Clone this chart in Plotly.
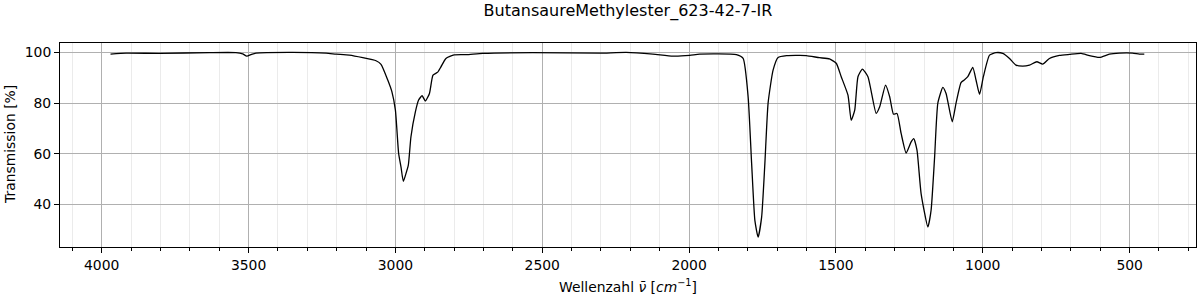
import plotly.graph_objects as go

title_text = "ButansaureMethylester_623-42-7-IR"
x_label = "Wellenzahl <i>ν̄</i> [<i>cm</i><sup>−1</sup>]"
y_label = "Transmission [%]"

wavenumber = [
    3970, 3917, 3804, 3633, 3543, 3520, 3506, 3490, 3475, 3350, 3236, 3202, 3157,
    3111, 3066, 3049, 3026, 3012, 3000, 2989, 2981, 2973, 2964, 2956, 2947, 2932,
    2921, 2909, 2898, 2884, 2872, 2856, 2845, 2828, 2800, 2759, 2702, 2532, 2305,
    2214, 2123, 2055, 1998, 1964, 1839, 1816, 1799, 1787, 1776, 1765, 1753, 1742,
    1731, 1714, 1697, 1668, 1623, 1601, 1556, 1522, 1499, 1482, 1459, 1448, 1436,
    1425, 1410, 1391, 1363, 1351, 1331, 1317, 1304, 1292, 1278, 1261, 1244, 1235,
    1224, 1210, 1187, 1176, 1164, 1153, 1136, 1125, 1104, 1091, 1074, 1063, 1051,
    1034, 1023, 1011, 998, 977, 955, 932, 909, 887, 864, 841, 816, 796, 773, 739,
    705, 665, 637, 603, 569, 535, 490, 467, 450,
]
transmission = [
    99.3, 99.7, 99.6, 99.9, 99.9, 99.4, 98.5, 99.2, 99.7, 100.0, 99.7, 99.3, 98.9,
    97.9, 96.7, 95.3, 89.1, 84.5, 77.2, 60.1, 54.8, 49.1, 52.2, 55.5, 66.7, 76.5,
    81.2, 82.9, 80.8, 83.8, 91.0, 92.2, 94.3, 97.6, 99.0, 99.1, 99.6, 99.9, 99.7,
    100.0, 99.3, 98.5, 98.8, 99.3, 99.1, 97.6, 82.5, 56.1, 33.7, 27.1, 35.0, 56.1,
    80.0, 93.0, 98.0, 98.7, 98.8, 98.7, 97.9, 97.4, 95.7, 90.4, 83.1, 73.2, 77.2,
    90.4, 93.4, 90.4, 75.9, 78.5, 87.1, 82.5, 75.6, 75.9, 68.0, 60.3, 64.7, 66.0,
    61.4, 44.3, 31.1, 37.7, 58.7, 80.0, 86.2, 83.8, 72.6, 80.0, 88.1, 89.1, 90.4,
    94.1, 89.1, 83.4, 90.4, 98.9, 99.9, 99.6, 97.6, 95.0, 94.6, 95.0, 96.3, 95.4,
    97.6, 98.8, 99.2, 99.6, 98.7, 98.0, 99.3, 99.7, 99.7, 99.3, 99.3,
]

x_ticks = [4000, 3500, 3000, 2500, 2000, 1500, 1000, 500]
y_ticks = [40, 60, 80, 100]

font = "DejaVu Sans"

fig = go.Figure()
fig.add_trace(go.Scatter(
    x=wavenumber, y=transmission, mode="lines",
    line=dict(color="black", width=1.3, shape="spline", smoothing=0.5),
    showlegend=False, hoverinfo="skip",
))

fig.update_layout(
    width=1200, height=300,
    margin=dict(l=60, r=4, t=43, b=53),
    paper_bgcolor="white", plot_bgcolor="white",
    font=dict(family=font, size=13.9, color="black"),
    title=dict(text=title_text, x=0.5, xref="paper", y=1 - 10 / 300, yref="container",
               xanchor="center", yanchor="middle", font=dict(family=font, size=16, color="black")),
    annotations=[
        dict(text=x_label, x=0.5, xref="paper", y=(247 - 286) / 204, yref="paper",
             xanchor="center", yanchor="middle", showarrow=False,
             font=dict(family=font, size=13.9, color="black")),
        dict(text=y_label, x=(10 - 60) / 1136, xref="paper", y=(247 - 145) / 204, yref="paper",
             xanchor="center", yanchor="middle", showarrow=False, textangle=-90,
             font=dict(family=font, size=13.9, color="black")),
    ],
)

fig.update_xaxes(
    range=[4142, 274], tickmode="array", tickvals=x_ticks,
    ticks="outside", ticklen=5, tickwidth=1, tickcolor="black",
    showgrid=True, gridcolor="#b0b0b0", gridwidth=1,
    showline=True, linecolor="black", linewidth=1, mirror=True, zeroline=False,
    minor=dict(dtick=100, tick0=0, ticks="outside", ticklen=3, tickcolor="black",
               showgrid=True, gridcolor="#ebebeb", gridwidth=1),
)
fig.update_yaxes(
    range=[23.2, 103.7], tickmode="array", tickvals=y_ticks,
    ticks="outside", ticklen=5, tickwidth=1, tickcolor="black",
    showgrid=True, gridcolor="#b0b0b0", gridwidth=1,
    showline=True, linecolor="black", linewidth=1, mirror=True, zeroline=False,
)

fig.write_html("out.html")
